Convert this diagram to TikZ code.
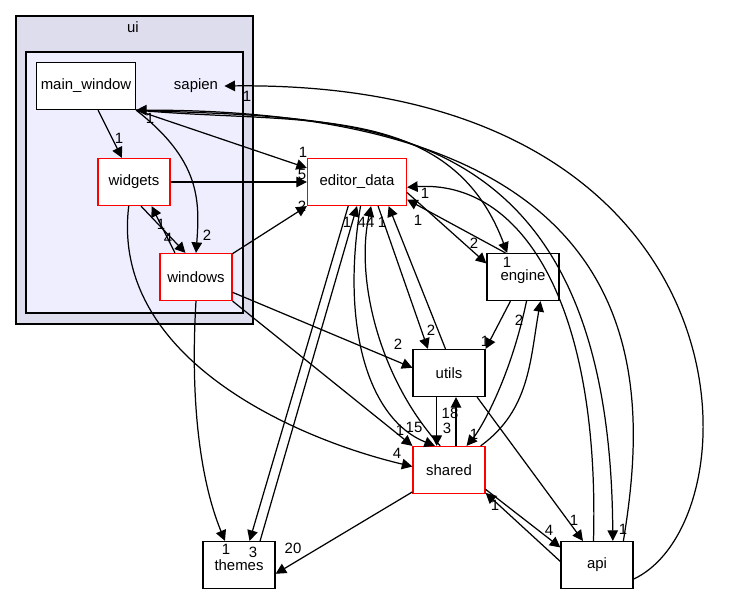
\documentclass[tikz,border=0pt]{standalone}
\usepackage{fontspec}
\setmainfont{Liberation Sans}
\usetikzlibrary{arrows.meta}
\definecolor{uifill}{HTML}{DDDDEE}
\definecolor{sapfill}{HTML}{EEEEFF}
\begin{document}
\begin{tikzpicture}[x=0.02cm,y=-0.02cm,font=\fontsize{8.5}{10}\selectfont,line width=0.7pt,
    dir/.style={draw=black,fill=white,minimum width=1.44cm,minimum height=0.94cm,inner sep=0pt},
    red dir/.style={dir,draw=red},
    dep/.style={-{Triangle[length=6pt,width=6pt]}},
    lbl/.style={inner sep=0pt}]
    \useasboundingbox (0,0) rectangle (756,596);

    % clusters
    \draw[fill=uifill] (16,16) rectangle (253,324);
    \node at (133,27) {ui};
    \draw[fill=sapfill] (26,52) rectangle (243,313);
    \node (sapien) at (196,86) {sapien};

    % directories
    \node[dir,minimum width=1.98cm] (mainwin) at (86,86) {main\_window};
    \node[red dir] (widgets) at (134,182) {widgets};
    \node[red dir] (windows) at (196,277) {windows};
    \node[red dir,minimum width=1.98cm] (editor) at (357,182) {editor\_data};
    \node[dir] (engine) at (523,277) {engine};
    \node[dir] (utils) at (449,373) {utils};
    \node[red dir] (shared) at (449,470) {shared};
    \node[dir] (themes) at (239,565) {themes};
    \node[dir] (api) at (597,565) {api};

    % dependencies
    \draw[dep] (mainwin) -- (widgets);
    \draw[dep] (mainwin.south east) .. controls (200,160) and (200,200) .. (windows.north);
    \draw[dep] (mainwin.south east) -- ([yshift=8pt]editor.west);
    \draw[dep] (mainwin.south east) .. controls (300,125) and (450,100) .. ([xshift=-9pt]engine.north);
    \draw[dep] (mainwin.south east) .. controls (350,120) and (610,100) .. ([xshift=9pt]api.north);
    \draw[dep] ([xshift=15pt]api.north) .. controls (650,380) and (660,110) .. (mainwin.south east);
    \draw[dep] ([yshift=-8pt]api.east) .. controls (760,520) and (760,80) .. (sapien.east);
    \draw[dep] (widgets) -- (editor);
    \draw[dep] ([xshift=4pt]widgets.south) -- ([xshift=-6pt]windows.north);
    \draw[dep] ([xshift=-12pt]windows.north) -- ([xshift=10pt]widgets.south);
    \draw[dep] ([xshift=-3pt]widgets.south) .. controls (110,360) and (300,440) .. ([yshift=2pt]shared.west);
    \draw[dep] (windows) -- (editor.south west);
    \draw[dep] (windows) -- ([yshift=3pt]utils.west);
    \draw[dep] (windows.south east) -- (shared.north west);
    \draw[dep] (windows.south) .. controls (190,400) and (200,480) .. ([xshift=-8pt]themes.north);
    \draw[dep] ([xshift=-5pt]editor.south) -- ([xshift=6pt]themes.north);
    \draw[dep] ([xshift=12pt]themes.north) -- ([xshift=0pt]editor.south);
    \draw[dep] ([xshift=2pt]editor.south) .. controls (340,330) and (370,420) .. ([xshift=-8pt]shared.north);
    \draw[dep] ([xshift=-5pt]shared.north) .. controls (380,380) and (355,280) .. ([xshift=8pt]editor.south);
    \draw[dep] ([xshift=12pt]editor.south) -- ([xshift=-12pt]utils.north);
    \draw[dep] ([xshift=-2pt]utils.north) -- ([xshift=18pt]editor.south);
    \draw[dep] ([yshift=-6pt]editor.east) -- ([yshift=-6pt]engine.north west);
    \draw[dep] ([xshift=-10pt]engine.north) -- ([yshift=-10pt]editor.east);
    \draw[dep] ([xshift=-2pt]api.north) .. controls (600,300) and (520,180) .. ([yshift=-3pt]editor.east);
    \draw[dep] (engine) -- (utils.north east);
    \draw[dep] ([xshift=2pt]engine.south) .. controls (510,380) and (480,430) .. ([xshift=10pt]shared.north);
    \draw[dep] ([xshift=18pt]shared.north) .. controls (530,410) and (530,360) .. ([xshift=10pt]engine.south);
    \draw[dep] ([xshift=-7pt]utils.south) -- ([xshift=-7pt]shared.north);
    \draw[dep] ([xshift=4pt]shared.north) -- ([xshift=4pt]utils.south);
    \draw[dep] ([xshift=16pt]utils.south) -- ([xshift=-8pt]api.north);
    \draw[dep] (shared) -- ([yshift=-5pt]themes.east);
    \draw[dep] ([yshift=-11pt]shared.east) -- ([yshift=10pt]api.west);
    \draw[dep] ([yshift=2pt]api.west) -- ([yshift=-13pt]shared.east);

    % counts
    \node[lbl] at (119,138) {1};
    \node[lbl] at (207,235) {2};
    \node[lbl] at (303,152) {1};
    \node[lbl] at (507,262) {1};
    \node[lbl] at (623,529) {1};
    \node[lbl] at (150,118) {1};
    \node[lbl] at (247,96) {1};
    \node[lbl] at (302,174) {5};
    \node[lbl] at (168,238) {4};
    \node[lbl] at (161,224) {1};
    \node[lbl] at (397,453) {4};
    \node[lbl] at (302,206) {2};
    \node[lbl] at (398,344) {2};
    \node[lbl] at (400,430) {1};
    \node[lbl] at (226,549) {1};
    \node[lbl] at (253,552) {3};
    \node[lbl] at (347,222) {1};
    \node[lbl] at (414,427) {15};
    \node[lbl] at (366,222) {44};
    \node[lbl] at (431,330) {2};
    \node[lbl] at (382,222) {1};
    \node[lbl] at (474,243) {2};
    \node[lbl] at (418,220) {1};
    \node[lbl] at (425,193) {1};
    \node[lbl] at (485,341) {1};
    \node[lbl] at (474,434) {1};
    \node[lbl] at (519,320) {2};
    \node[lbl] at (447,428) {3};
    \node[lbl] at (450,413) {18};
    \node[lbl] at (574,520) {1};
    \node[lbl] at (293,548) {20};
    \node[lbl] at (549,530) {4};
    \node[lbl] at (495,505) {1};
\end{tikzpicture}
\end{document}
